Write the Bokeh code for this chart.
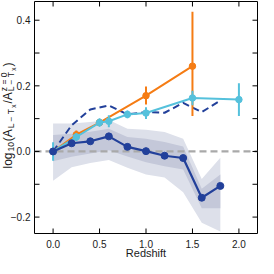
import math
from bokeh.plotting import figure
from bokeh.layouts import row, column
from bokeh.models import Range1d, ColumnDataSource
from bokeh.core.properties import value
from bokeh.embed import file_html
from bokeh.resources import INLINE

# ---- data ----
z_main = [0.0, 0.2, 0.4, 0.6, 0.8, 1.0, 1.2, 1.4, 1.6, 1.8]
main_y = [0.0, 0.025, 0.031, 0.046, 0.014, 0.001, -0.013, -0.020, -0.141, -0.105]
band1_lo = [-0.030, -0.016, -0.006, 0.004, -0.015, -0.033, -0.045, -0.055, -0.173, -0.173]
band1_hi = [0.050, 0.054, 0.060, 0.069, 0.044, 0.039, 0.029, 0.015, -0.114, -0.070]
band2_lo = [-0.089, -0.048, -0.035, -0.026, -0.050, -0.070, -0.079, -0.124, -0.217, -0.244]
band2_hi = [0.085, 0.085, 0.090, 0.096, 0.069, 0.066, 0.059, 0.039, -0.084, -0.019]
dash_y = [0.0, 0.080, 0.128, 0.140, 0.113, 0.120, 0.118, 0.148, 0.120, 0.155]

orange_z = [0.0, 0.25, 0.5, 1.0, 1.5]
orange_y = [0.0, 0.051, 0.088, 0.170, 0.260]
orange_err_lo = [0.0, 0.012, 0.0, 0.027, 0.152]
orange_err_hi = [0.0, 0.013, 0.0, 0.028, 0.166]

cyan_z = [0.0, 0.25, 0.5, 0.6, 0.8, 1.0, 1.5, 2.0]
cyan_y = [0.0, 0.044, 0.088, 0.092, 0.113, 0.117, 0.163, 0.158]
cyan_err = [0.028, 0.012, 0.013, 0.018, 0.012, 0.018, 0.022, 0.050]

x_ticks = [0.0, 0.5, 1.0, 1.5, 2.0]
x_tick_labels = ["0.0", "0.5", "1.0", "1.5", "2.0"]
y_ticks = [-0.2, 0.0, 0.2, 0.4]
y_tick_labels = ["\u22120.2", "0.0", "0.2", "0.4"]
y_minor = [-0.1, 0.1, 0.3]
x_label = "Redshift"

XR = (-0.2, 2.2)
YR = (-0.25, 0.457)

C_MAIN = "#22409a"
C_ORANGE = "#f57c14"
C_CYAN = "#55c1dc"
C_BAND_OUT = "#dde0ea"
C_BAND_IN = "#c4c8d9"
C_TEXT = "#1a1a1a"
FONT = "Liberation Sans"

TOTAL = 258
WQ = 33          # left strip (y tick labels + y label)
HR = 24          # bottom strip (x tick labels + x label)
WP = TOTAL - WQ
HP = TOTAL - HR
BL, BR, BT, BB = 1, 1, 1, 1

xr = Range1d(*XR)
yr = Range1d(*YR)

p = figure(width=WP, height=HP, output_backend="svg", toolbar_location=None,
           x_range=xr, y_range=yr, x_axis_location=None, y_axis_location=None,
           min_border_left=BL, min_border_right=BR, min_border_top=BT, min_border_bottom=BB)
p.grid.visible = False
p.outline_line_color = "black"
p.outline_line_width = 1
p.background_fill_color = "white"

# bands
p.varea(x=z_main, y1=band2_lo, y2=band2_hi, fill_color=C_BAND_OUT)
p.varea(x=z_main, y1=band1_lo, y2=band1_hi, fill_color=C_BAND_IN)

# zero line
p.line(x=list(XR), y=[0, 0], line_color="#a9a9a9", line_width=2.2, line_dash="7 4")

# dashed navy
p.line(x=z_main, y=dash_y, line_color=C_MAIN, line_width=2, line_dash="7 4")

# orange
o_lo = [y - e for y, e in zip(orange_y, orange_err_lo)]
o_hi = [y + e for y, e in zip(orange_y, orange_err_hi)]
p.segment(x0=orange_z, y0=o_lo, x1=orange_z, y1=o_hi, line_color=C_ORANGE, line_width=2)
p.line(x=orange_z, y=orange_y, line_color=C_ORANGE, line_width=2)
p.scatter(x=orange_z, y=orange_y, size=6.5, fill_color=C_ORANGE, line_color=C_ORANGE)

# cyan
c_lo = [y - e for y, e in zip(cyan_y, cyan_err)]
c_hi = [y + e for y, e in zip(cyan_y, cyan_err)]
p.segment(x0=cyan_z, y0=c_lo, x1=cyan_z, y1=c_hi, line_color=C_CYAN, line_width=2)
p.line(x=cyan_z, y=cyan_y, line_color=C_CYAN, line_width=2)
p.scatter(x=cyan_z, y=cyan_y, size=6.5, fill_color=C_CYAN, line_color=C_CYAN)

# main
p.line(x=z_main, y=main_y, line_color=C_MAIN, line_width=2.2)
p.scatter(x=z_main, y=main_y, size=7, fill_color=C_MAIN, line_color=C_MAIN)

# inward ticks on all four sides: dashes centred on the frame edge, half clipped away
TICK = 10
y_all = y_ticks + y_minor
p.scatter(x=x_ticks, y=[YR[0]] * len(x_ticks), marker="dash", size=TICK, angle=math.pi / 2,
          line_color="black", line_width=1)
p.scatter(x=x_ticks, y=[YR[1]] * len(x_ticks), marker="dash", size=TICK, angle=math.pi / 2,
          line_color="black", line_width=1)
p.scatter(x=[XR[0]] * len(y_all), y=y_all, marker="dash", size=TICK,
          line_color="black", line_width=1)
p.scatter(x=[XR[1]] * len(y_all), y=y_all, marker="dash", size=TICK,
          line_color="black", line_width=1)

def strip(w, h, x_range, y_range, **borders):
    f = figure(width=w, height=h, output_backend="svg", toolbar_location=None,
               x_range=x_range, y_range=y_range, x_axis_location=None, y_axis_location=None,
               **borders)
    f.grid.visible = False
    f.outline_line_color = None
    return f

# ---- left strip: y tick labels and the y-axis label ----
q = strip(WQ, HP, Range1d(0, WQ), yr, min_border_left=0, min_border_right=0,
          min_border_top=BT, min_border_bottom=BB)
q.text(x=[WQ - 3] * len(y_ticks), y=y_ticks, text=y_tick_labels, text_align="right",
       text_baseline="middle", text_font=value(FONT), text_font_size="10px", text_color=C_TEXT)

frame_h = HP - BT - BB
px_y = (YR[1] - YR[0]) / frame_h
M, S, SS = 12, 8.5, 6.5
adv = {"l": .222, "o": .556, "g": .556, "1": .556, "0": .556, "(": .333, ")": .333,
       "A": .667, "L": .556, "\u2212": .584, "T": .611, "x": .5, "/": .278, "z": .5,
       "=": .584, " ": .278}
def tw(s, size):
    return sum(adv.get(c, .55) for c in s) * size

X_MAIN = 7.0
X_SUP, X_SUB, X_SS = X_MAIN - 3.2, X_MAIN + 3.8, X_MAIN + 5.8
pieces = [("log", M, X_MAIN, True), ("10", S, X_SUB, True), ("(A", M, X_MAIN, True),
          ("L \u2212 T", S, X_SUB, True), ("x", SS, X_SS, True), ("/A", M, X_MAIN, True),
          ("z = 0", S, X_SUP, False), ("L \u2212 T", S, X_SUB, True), ("x", SS, X_SS, True),
          (")", M, X_MAIN, True)]
LABEL_LEN = 106
n_adv = sum(1 for pc in pieces if pc[3])
base = sum(tw(t, s) for t, s, c, a in pieces if a)
gap = max(0.0, (LABEL_LEN - base) / (n_adv - 1))
center_px_from_top = 114
pos = YR[1] - center_px_from_top * px_y - (base + gap * (n_adv - 1)) / 2 * px_y
lx, ly, lt, lf = [], [], [], []
for t, s, col, advance in pieces:
    lx.append(col)
    ly.append(pos)
    lt.append(t)
    lf.append(f"{s}px")
    if advance:
        pos += (tw(t, s) + gap) * px_y
src = ColumnDataSource(dict(x=lx, y=ly, text=lt, fs=lf))
q.text(x="x", y="y", text="text", text_font_size="fs", source=src, angle=math.pi / 2,
       text_align="left", text_baseline="middle", text_font=value(FONT), text_color=C_TEXT)

# ---- bottom strip: x tick labels and the x-axis label ----
r = strip(TOTAL, HR, xr, Range1d(0, HR), min_border_left=WQ + BL, min_border_right=BR,
          min_border_top=0, min_border_bottom=0)
r.text(x=x_ticks, y=[HR - 9] * len(x_ticks), text=x_tick_labels, text_align="center",
       text_baseline="middle", text_font=value(FONT), text_font_size="10px", text_color=C_TEXT)
r.text(x=[(XR[0] + XR[1]) / 2], y=[5.6], text=[x_label], text_align="center",
       text_baseline="middle", text_font=value(FONT), text_font_size="11px", text_color=C_TEXT)

layout = column(row(q, p), r)
open("out.html", "w").write(file_html(layout, INLINE))
